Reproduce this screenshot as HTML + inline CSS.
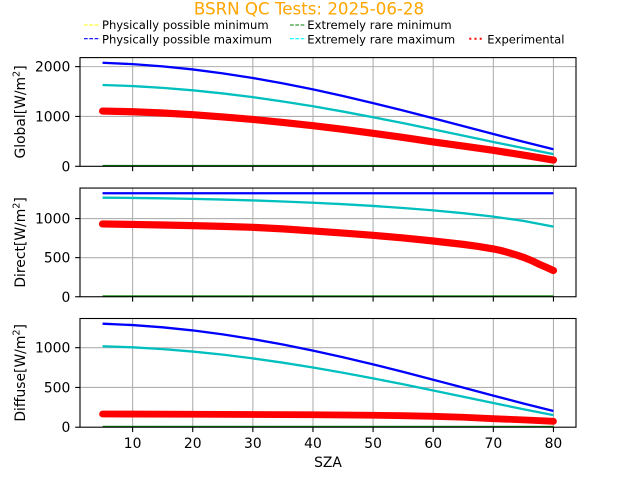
<!DOCTYPE html>
<html>
<head>
<meta charset="utf-8">
<style>
html,body{margin:0;padding:0;background:#fff;}
svg{display:block;}
text{font-family:"DejaVu Sans","Liberation Sans",sans-serif;}
</style>
</head>
<body>
<svg width="640" height="480" viewBox="0 0 640 480" xmlns="http://www.w3.org/2000/svg">
<defs>
  <clipPath id="c1"><rect x="80" y="57.6" width="496" height="108.7"/></clipPath>
  <clipPath id="c2"><rect x="80" y="188.05" width="496" height="108.7"/></clipPath>
  <clipPath id="c3"><rect x="80" y="318.5" width="496" height="108.7"/></clipPath>
</defs>
<rect width="640" height="480" fill="#fff"/>

<!-- Title -->
<text x="309" y="14.5" font-size="16.67" fill="#ffa500" text-anchor="middle">BSRN QC Tests: 2025-06-28</text>

<!-- Legend -->
<g font-size="11.57" fill="#000">
  <line x1="84" y1="25" x2="100" y2="25" stroke="#ffff00" stroke-width="1.1" stroke-dasharray="3.7 1.6"/>
  <text x="102" y="29">Physically possible minimum</text>
  <line x1="84" y1="38.7" x2="100" y2="38.7" stroke="#0000ff" stroke-width="1.1" stroke-dasharray="3.7 1.6"/>
  <text x="102" y="43.3">Physically possible maximum</text>
  <line x1="290" y1="25" x2="306" y2="25" stroke="#008000" stroke-width="1.1" stroke-dasharray="3.7 1.6"/>
  <text x="307.3" y="29">Extremely rare minimum</text>
  <line x1="290" y1="38.7" x2="306" y2="38.7" stroke="#00ffff" stroke-width="1.1" stroke-dasharray="3.7 1.6"/>
  <text x="307.3" y="43.3">Extremely rare maximum</text>
  <line x1="469.3" y1="38.7" x2="482" y2="38.7" stroke="#ff0000" stroke-width="2" stroke-dasharray="2 3.2"/>
  <text x="487.3" y="43.3">Experimental</text>
</g>

<!-- ================= Panel 1: Global ================= -->
<g stroke="#b0b0b0" stroke-width="1.1">
  <line x1="132.61" y1="57.6" x2="132.61" y2="166.3"/>
  <line x1="192.73" y1="57.6" x2="192.73" y2="166.3"/>
  <line x1="252.85" y1="57.6" x2="252.85" y2="166.3"/>
  <line x1="312.97" y1="57.6" x2="312.97" y2="166.3"/>
  <line x1="373.09" y1="57.6" x2="373.09" y2="166.3"/>
  <line x1="433.21" y1="57.6" x2="433.21" y2="166.3"/>
  <line x1="493.33" y1="57.6" x2="493.33" y2="166.3"/>
  <line x1="553.45" y1="57.6" x2="553.45" y2="166.3"/>
  <line x1="80" y1="116.46" x2="576" y2="116.46"/>
  <line x1="80" y1="66.62" x2="576" y2="66.62"/>
</g>
<g clip-path="url(#c1)" fill="none">
  <polyline stroke="#0000ff" stroke-width="2.3" points="102.55,62.78 132.61,64.13 162.67,66.36 192.73,69.45 222.79,73.35 252.85,78.02 282.91,83.40 312.97,89.42 343.03,96.01 373.09,103.07 403.15,110.51 433.21,118.23 463.27,126.10 493.33,134.00 523.39,141.76 553.45,149.20"/>
  <polyline stroke="#00bfbf" stroke-width="2.3" points="102.55,84.98 132.61,86.06 162.67,87.84 192.73,90.32 222.79,93.44 252.85,97.17 282.91,101.47 312.97,106.30 343.03,111.56 373.09,117.21 403.15,123.17 433.21,129.34 463.27,135.64 493.33,141.95 523.39,148.17 553.45,154.12"/>
  <polyline stroke="#ff0000" stroke-width="7.2" stroke-linecap="round" stroke-linejoin="round" points="102.55,111.07 132.61,111.72 162.67,112.97 192.73,114.71 222.79,116.96 252.85,119.45 282.91,122.44 312.97,125.68 343.03,129.32 373.09,133.30 403.15,137.49 433.21,141.98 463.27,146.11 493.33,150.35 523.39,155.09 553.45,160.02"/>
  <rect x="102.55" y="164.9" width="450.9" height="1.4" fill="#008000" stroke="none"/>
</g>
<rect x="80" y="57.6" width="496" height="108.7" fill="none" stroke="#000" stroke-width="1.1"/>
<g stroke="#000" stroke-width="1.1">
  <line x1="75.14" y1="166.3" x2="80" y2="166.3"/>
  <line x1="75.14" y1="116.46" x2="80" y2="116.46"/>
  <line x1="75.14" y1="66.62" x2="80" y2="66.62"/>
  <line x1="132.61" y1="166.3" x2="132.61" y2="171.16"/>
  <line x1="192.73" y1="166.3" x2="192.73" y2="171.16"/>
  <line x1="252.85" y1="166.3" x2="252.85" y2="171.16"/>
  <line x1="312.97" y1="166.3" x2="312.97" y2="171.16"/>
  <line x1="373.09" y1="166.3" x2="373.09" y2="171.16"/>
  <line x1="433.21" y1="166.3" x2="433.21" y2="171.16"/>
  <line x1="493.33" y1="166.3" x2="493.33" y2="171.16"/>
  <line x1="553.45" y1="166.3" x2="553.45" y2="171.16"/>
</g>
<g font-size="13.89" fill="#000" text-anchor="end">
  <text x="70.3" y="171.3">0</text>
  <text x="70.3" y="121.5">1000</text>
  <text x="70.3" y="71.6">2000</text>
</g>
<text transform="translate(25,111.95) rotate(-90)" font-size="13.89" text-anchor="middle">Global[W/m<tspan font-size="9.7" dy="-5.5">2</tspan><tspan dy="5.5">]</tspan></text>

<!-- ================= Panel 2: Direct ================= -->
<g stroke="#b0b0b0" stroke-width="1.1">
  <line x1="132.61" y1="188.05" x2="132.61" y2="296.75"/>
  <line x1="192.73" y1="188.05" x2="192.73" y2="296.75"/>
  <line x1="252.85" y1="188.05" x2="252.85" y2="296.75"/>
  <line x1="312.97" y1="188.05" x2="312.97" y2="296.75"/>
  <line x1="373.09" y1="188.05" x2="373.09" y2="296.75"/>
  <line x1="433.21" y1="188.05" x2="433.21" y2="296.75"/>
  <line x1="493.33" y1="188.05" x2="493.33" y2="296.75"/>
  <line x1="553.45" y1="188.05" x2="553.45" y2="296.75"/>
  <line x1="80" y1="257.66" x2="576" y2="257.66"/>
  <line x1="80" y1="218.57" x2="576" y2="218.57"/>
</g>
<g clip-path="url(#c2)" fill="none">
  <line x1="102.55" y1="193.24" x2="553.45" y2="193.24" stroke="#0000ff" stroke-width="2.3"/>
  <polyline stroke="#00bfbf" stroke-width="2.3" points="102.55,197.71 132.61,197.93 162.67,198.31 192.73,198.84 222.79,199.55 252.85,200.42 282.91,201.48 312.97,202.73 343.03,204.21 373.09,205.95 403.15,207.97 433.21,210.36 463.27,213.19 493.33,216.62 523.39,220.92 553.45,226.68"/>
  <polyline stroke="#ff0000" stroke-width="7.2" stroke-linecap="round" stroke-linejoin="round" points="102.55,223.96 132.61,224.43 162.67,224.98 192.73,225.60 222.79,226.39 252.85,227.32 282.91,228.89 312.97,230.92 343.03,233.03 373.09,235.30 403.15,237.96 433.21,241.01 463.27,244.37 478.3,246.4 493.33,248.90 500.85,250.5 508.36,252.58 515.9,254.8 523.39,257.27 530.9,260.3 538.42,263.91 546.0,267.2 553.45,270.56"/>
  <rect x="102.55" y="295.35" width="450.9" height="1.4" fill="#008000" stroke="none"/>
</g>
<rect x="80" y="188.05" width="496" height="108.7" fill="none" stroke="#000" stroke-width="1.1"/>
<g stroke="#000" stroke-width="1.1">
  <line x1="75.14" y1="296.75" x2="80" y2="296.75"/>
  <line x1="75.14" y1="257.66" x2="80" y2="257.66"/>
  <line x1="75.14" y1="218.57" x2="80" y2="218.57"/>
  <line x1="132.61" y1="296.75" x2="132.61" y2="301.61"/>
  <line x1="192.73" y1="296.75" x2="192.73" y2="301.61"/>
  <line x1="252.85" y1="296.75" x2="252.85" y2="301.61"/>
  <line x1="312.97" y1="296.75" x2="312.97" y2="301.61"/>
  <line x1="373.09" y1="296.75" x2="373.09" y2="301.61"/>
  <line x1="433.21" y1="296.75" x2="433.21" y2="301.61"/>
  <line x1="493.33" y1="296.75" x2="493.33" y2="301.61"/>
  <line x1="553.45" y1="296.75" x2="553.45" y2="301.61"/>
</g>
<g font-size="13.89" fill="#000" text-anchor="end">
  <text x="70.3" y="301.8">0</text>
  <text x="70.3" y="262.7">500</text>
  <text x="70.3" y="223.6">1000</text>
</g>
<text transform="translate(25,242.4) rotate(-90)" font-size="13.89" text-anchor="middle">Direct[W/m<tspan font-size="9.7" dy="-5.5">2</tspan><tspan dy="5.5">]</tspan></text>

<!-- ================= Panel 3: Diffuse ================= -->
<g stroke="#b0b0b0" stroke-width="1.1">
  <line x1="132.61" y1="318.5" x2="132.61" y2="427.2"/>
  <line x1="192.73" y1="318.5" x2="192.73" y2="427.2"/>
  <line x1="252.85" y1="318.5" x2="252.85" y2="427.2"/>
  <line x1="312.97" y1="318.5" x2="312.97" y2="427.2"/>
  <line x1="373.09" y1="318.5" x2="373.09" y2="427.2"/>
  <line x1="433.21" y1="318.5" x2="433.21" y2="427.2"/>
  <line x1="493.33" y1="318.5" x2="493.33" y2="427.2"/>
  <line x1="553.45" y1="318.5" x2="553.45" y2="427.2"/>
  <line x1="80" y1="387.45" x2="576" y2="387.45"/>
  <line x1="80" y1="347.70" x2="576" y2="347.70"/>
</g>
<g clip-path="url(#c3)" fill="none">
  <polyline stroke="#0000ff" stroke-width="2.3" points="102.55,323.69 132.61,325.05 162.67,327.30 192.73,330.42 222.79,334.36 252.85,339.08 282.91,344.52 312.97,350.60 343.03,357.26 373.09,364.39 403.15,371.91 433.21,379.70 463.27,387.66 493.33,395.63 523.39,403.47 553.45,410.99"/>
  <polyline stroke="#00bfbf" stroke-width="2.3" points="102.55,346.23 132.61,347.31 162.67,349.09 192.73,351.55 222.79,354.66 252.85,358.39 282.91,362.68 312.97,367.48 343.03,372.73 373.09,378.36 403.15,384.30 433.21,390.46 463.27,396.74 493.33,403.03 523.39,409.23 553.45,415.16"/>
  <polyline stroke="#ff0000" stroke-width="6.8" stroke-linecap="round" stroke-linejoin="round" points="102.55,414.00 132.61,414.08 192.73,414.24 252.85,414.48 312.97,414.72 373.09,415.27 403.15,415.67 433.21,416.31 463.27,417.26 493.33,418.69 523.39,419.89 553.45,421.32"/>
  <rect x="102.55" y="425.8" width="450.9" height="1.4" fill="#008000" stroke="none"/>
</g>
<rect x="80" y="318.5" width="496" height="108.7" fill="none" stroke="#000" stroke-width="1.1"/>
<g stroke="#000" stroke-width="1.1">
  <line x1="75.14" y1="427.2" x2="80" y2="427.2"/>
  <line x1="75.14" y1="387.45" x2="80" y2="387.45"/>
  <line x1="75.14" y1="347.70" x2="80" y2="347.70"/>
  <line x1="132.61" y1="427.2" x2="132.61" y2="432.06"/>
  <line x1="192.73" y1="427.2" x2="192.73" y2="432.06"/>
  <line x1="252.85" y1="427.2" x2="252.85" y2="432.06"/>
  <line x1="312.97" y1="427.2" x2="312.97" y2="432.06"/>
  <line x1="373.09" y1="427.2" x2="373.09" y2="432.06"/>
  <line x1="433.21" y1="427.2" x2="433.21" y2="432.06"/>
  <line x1="493.33" y1="427.2" x2="493.33" y2="432.06"/>
  <line x1="553.45" y1="427.2" x2="553.45" y2="432.06"/>
</g>
<g font-size="13.89" fill="#000" text-anchor="end">
  <text x="70.3" y="432.2">0</text>
  <text x="70.3" y="392.5">500</text>
  <text x="70.3" y="352.7">1000</text>
</g>
<text transform="translate(25,372.85) rotate(-90)" font-size="13.89" text-anchor="middle">Diffuse[W/m<tspan font-size="9.7" dy="-5.5">2</tspan><tspan dy="5.5">]</tspan></text>

<!-- X tick labels -->
<g font-size="13.89" fill="#000" text-anchor="middle">
  <text x="132.61" y="448">10</text>
  <text x="192.73" y="448">20</text>
  <text x="252.85" y="448">30</text>
  <text x="312.97" y="448">40</text>
  <text x="373.09" y="448">50</text>
  <text x="433.21" y="448">60</text>
  <text x="493.33" y="448">70</text>
  <text x="553.45" y="448">80</text>
</g>
<text x="328" y="467" font-size="13.89" text-anchor="middle">SZA</text>
</svg>
</body>
</html>
